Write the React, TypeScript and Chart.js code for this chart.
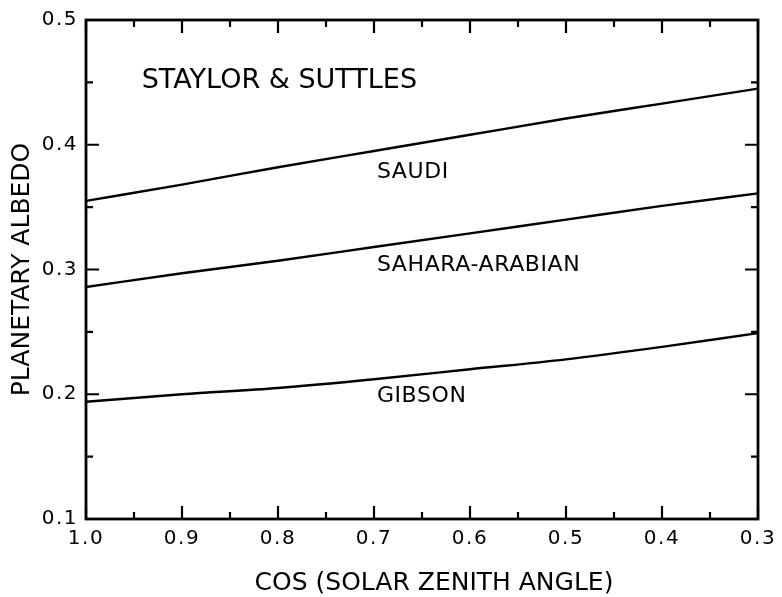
import React, { useEffect, useRef } from "react";
import { Chart, registerables } from "chart.js";

Chart.register(...registerables);

// ---- data ----
const cosZenith = [1.0, 0.9, 0.8, 0.7, 0.6, 0.5, 0.4, 0.3];
const saudi = [0.355, 0.368, 0.382, 0.395, 0.408, 0.421, 0.433, 0.445];
const saharaArabian = [0.286, 0.297, 0.307, 0.318, 0.329, 0.34, 0.351, 0.361];
const gibson = [0.194, 0.2, 0.205, 0.212, 0.22, 0.228, 0.238, 0.249];

const seriesNames = ["SAUDI", "SAHARA-ARABIAN", "GIBSON"];
const seriesLabelX = [0.697, 0.697, 0.697];
const seriesLabelY = [0.378, 0.303, 0.198];

const chartTitle = "STAYLOR & SUTTLES";
const chartTitleX = 0.942;
const chartTitleY = 0.451;

const xAxisTitle = "COS (SOLAR ZENITH ANGLE)";
const yAxisTitle = "PLANETARY ALBEDO";

const xMin = 0.3;
const xMax = 1.0;
const yMin = 0.1;
const yMax = 0.5;
const tickStep = 0.1;

const FONT = '"DejaVu Sans", sans-serif';

const decorPlugin = {
  id: "decor",
  beforeDraw(chart: any) {
    chart.ctx.letterSpacing = "1.5px";
  },
  beforeDatasetsDraw(chart: any) {
    chart.ctx.letterSpacing = "0px";
  },
  afterDraw(chart: any) {
    const ctx = chart.ctx as CanvasRenderingContext2D;
    const { left, right, top, bottom } = chart.chartArea;
    const xs = chart.scales.x;
    const ys = chart.scales.y;
    ctx.save();
    (ctx as any).letterSpacing = "0px";
    ctx.strokeStyle = "#000";
    ctx.fillStyle = "#000";

    // frame
    ctx.lineWidth = 2.8;
    ctx.strokeRect(left, top, right - left, bottom - top);

    // inward ticks, major and minor (midpoints)
    const majorLen = 13;
    const minorLen = 7;
    ctx.lineWidth = 2.2;
    const tickList = (scale: any) => {
      const vals = scale.ticks.map((t: any) => t.value).sort((a: number, b: number) => a - b);
      const out: { v: number; major: boolean }[] = [];
      vals.forEach((v: number, i: number) => {
        out.push({ v, major: true });
        if (i < vals.length - 1) out.push({ v: (v + vals[i + 1]) / 2, major: false });
      });
      return out;
    };
    ctx.beginPath();
    tickList(xs).forEach(({ v, major }) => {
      const px = xs.getPixelForValue(v);
      const len = major ? majorLen : minorLen;
      ctx.moveTo(px, bottom);
      ctx.lineTo(px, bottom - len);
      ctx.moveTo(px, top);
      ctx.lineTo(px, top + len);
    });
    tickList(ys).forEach(({ v, major }) => {
      const py = ys.getPixelForValue(v);
      const len = major ? majorLen : minorLen;
      ctx.moveTo(left, py);
      ctx.lineTo(left + len, py);
      ctx.moveTo(right, py);
      ctx.lineTo(right - len, py);
    });
    ctx.stroke();

    // chart title inside plot
    ctx.textAlign = "left";
    ctx.textBaseline = "middle";
    ctx.font = `27px ${FONT}`;
    ctx.fillText(chartTitle, xs.getPixelForValue(chartTitleX), ys.getPixelForValue(chartTitleY));

    // series labels
    ctx.font = `22px ${FONT}`;
    (ctx as any).letterSpacing = "0.6px";
    seriesNames.forEach((name, i) => {
      ctx.fillText(name, xs.getPixelForValue(seriesLabelX[i]), ys.getPixelForValue(seriesLabelY[i]));
    });
    (ctx as any).letterSpacing = "0px";

    // axis titles
    ctx.font = `25px ${FONT}`;
    ctx.textAlign = "center";
    ctx.fillText(xAxisTitle, (left + right) / 2 + 12, 583);
    ctx.save();
    ctx.translate(22, (top + bottom) / 2);
    ctx.rotate(-Math.PI / 2);
    ctx.fillText(yAxisTitle, 0, 0);
    ctx.restore();

    ctx.restore();
  },
};

export default function App() {
  const canvasRef = useRef<HTMLCanvasElement | null>(null);

  useEffect(() => {
    const canvas = canvasRef.current;
    if (!canvas) return;
    const mk = (vals: number[]) => cosZenith.map((x, i) => ({ x, y: vals[i] }));
    const lineStyle = {
      borderColor: "#000",
      borderWidth: 2.4,
      pointRadius: 0,
      tension: 0.4,
      cubicInterpolationMode: "monotone" as const,
      fill: false,
    };
    const chart = new Chart(canvas, {
      type: "line",
      data: {
        datasets: [
          { label: seriesNames[0], data: mk(saudi), ...lineStyle },
          { label: seriesNames[1], data: mk(saharaArabian), ...lineStyle },
          { label: seriesNames[2], data: mk(gibson), ...lineStyle },
        ],
      },
      options: {
        responsive: false,
        animation: false,
        layout: { padding: { top: 20, right: 24, left: 0, bottom: 0 } },
        plugins: {
          legend: { display: false },
          tooltip: { enabled: false },
        },
        scales: {
          x: {
            type: "linear",
            reverse: true,
            min: xMin,
            max: xMax,
            grid: { display: false, drawTicks: false },
            border: { display: false },
            ticks: {
              stepSize: tickStep,
              color: "#000",
              padding: 8,
              font: { family: FONT, size: 20 },
              callback: (v: any) => Number(v).toFixed(1),
            },
            afterFit: (scale: any) => {
              scale.height = 78;
            },
          },
          y: {
            type: "linear",
            min: yMin,
            max: yMax,
            grid: { display: false, drawTicks: false },
            border: { display: false },
            ticks: {
              stepSize: tickStep,
              color: "#000",
              padding: 8,
              font: { family: FONT, size: 20 },
              callback: (v: any) => Number(v).toFixed(1),
            },
            afterFit: (scale: any) => {
              scale.width = 86;
            },
          },
        },
      },
      plugins: [decorPlugin],
    });
    return () => chart.destroy();
  }, []);

  return (
    <div style={{ position: "absolute", left: 0, top: 0, width: 782, height: 597, background: "#fff" }}>
      <canvas ref={canvasRef} width={782} height={597} style={{ display: "block" }} />
    </div>
  );
}
